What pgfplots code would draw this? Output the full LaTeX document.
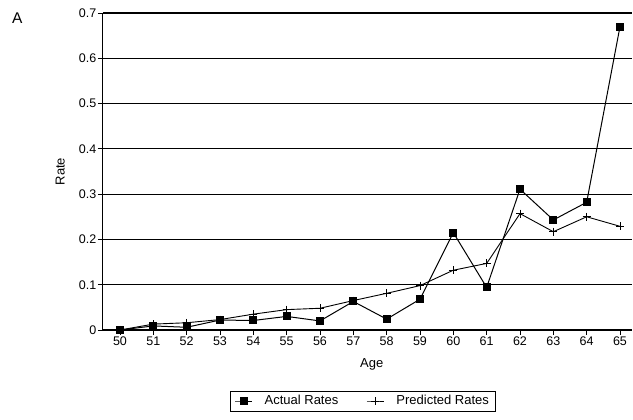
\documentclass[border=0pt]{standalone}
\usepackage{pgfplots}
\pgfplotsset{compat=1.18}
\usepackage{fontspec}
\setmainfont{Liberation Sans}

\begin{document}
\begin{tikzpicture}
\useasboundingbox (0,0) rectangle (633pt,420pt);
\node[anchor=north west, inner sep=0pt, font=\fontsize{15.5}{18}\selectfont] at (12pt,407pt) {A};
\begin{axis}[
    at={(103pt,90pt)}, anchor=south west,
    scale only axis, width=529pt, height=317pt,
    xmin=49.49, xmax=65.36, ymin=0, ymax=0.7,
    clip=false,
    axis lines*=left,
    axis line style={line width=1pt},
    xtick={50,51,52,53,54,55,56,57,58,59,60,61,62,63,64,65},
    ytick={0,0.1,0.2,0.3,0.4,0.5,0.6,0.7},
    ymajorgrids,
    grid style={black, line width=1.1pt},
    tick align=outside,
    major tick length=5pt,
    tick style={black, line width=0.9pt},
    /pgf/number format/assume math mode=true,
    yticklabel style={/pgf/number format/fixed, /pgf/number format/precision=1, inner sep=1.5pt},
    xticklabel style={/pgf/number format/1000 sep={}, inner sep=2pt},
    tick label style={font=\fontsize{12.5}{15}\selectfont},
    label style={font=\fontsize{13}{15}\selectfont},
    xlabel={Age},
    ylabel={Rate},
    xlabel style={at={(axis description cs:0.508,-0.108)}, anchor=center},
    ylabel style={at={(axis description cs:-0.081,0.5)}, anchor=center},
    legend columns=2,
    legend style={at={(axis description cs:0.491,-0.224)}, anchor=center,
        draw=black, line width=0.8pt, font=\fontsize{13}{15}\selectfont,
        inner xsep=4pt, inner ysep=2.5pt,
        /tikz/every odd column/.append style={column sep=10pt},
        /tikz/every even column/.append style={column sep=26pt}},
    legend image post style={line width=1pt},
]
\addplot[black, line width=1pt, mark=square*, mark size=3.5pt] coordinates {
    (50,0) (51,0.009) (52,0.006) (53,0.022) (54,0.021) (55,0.030)
    (56,0.020) (57,0.063) (58,0.024) (59,0.068) (60,0.215) (61,0.094)
    (62,0.311) (63,0.243) (64,0.282) (65,0.670)
};
\addlegendentry{Actual Rates}
\addplot[black, line width=0.9pt, mark=+, mark size=4pt] coordinates {
    (50,0) (51,0.013) (52,0.016) (53,0.023) (54,0.035) (55,0.045)
    (56,0.048) (57,0.065) (58,0.081) (59,0.098) (60,0.132) (61,0.147)
    (62,0.257) (63,0.217) (64,0.250) (65,0.229)
};
\addlegendentry{Predicted Rates}
\end{axis}
\end{tikzpicture}
\end{document}
